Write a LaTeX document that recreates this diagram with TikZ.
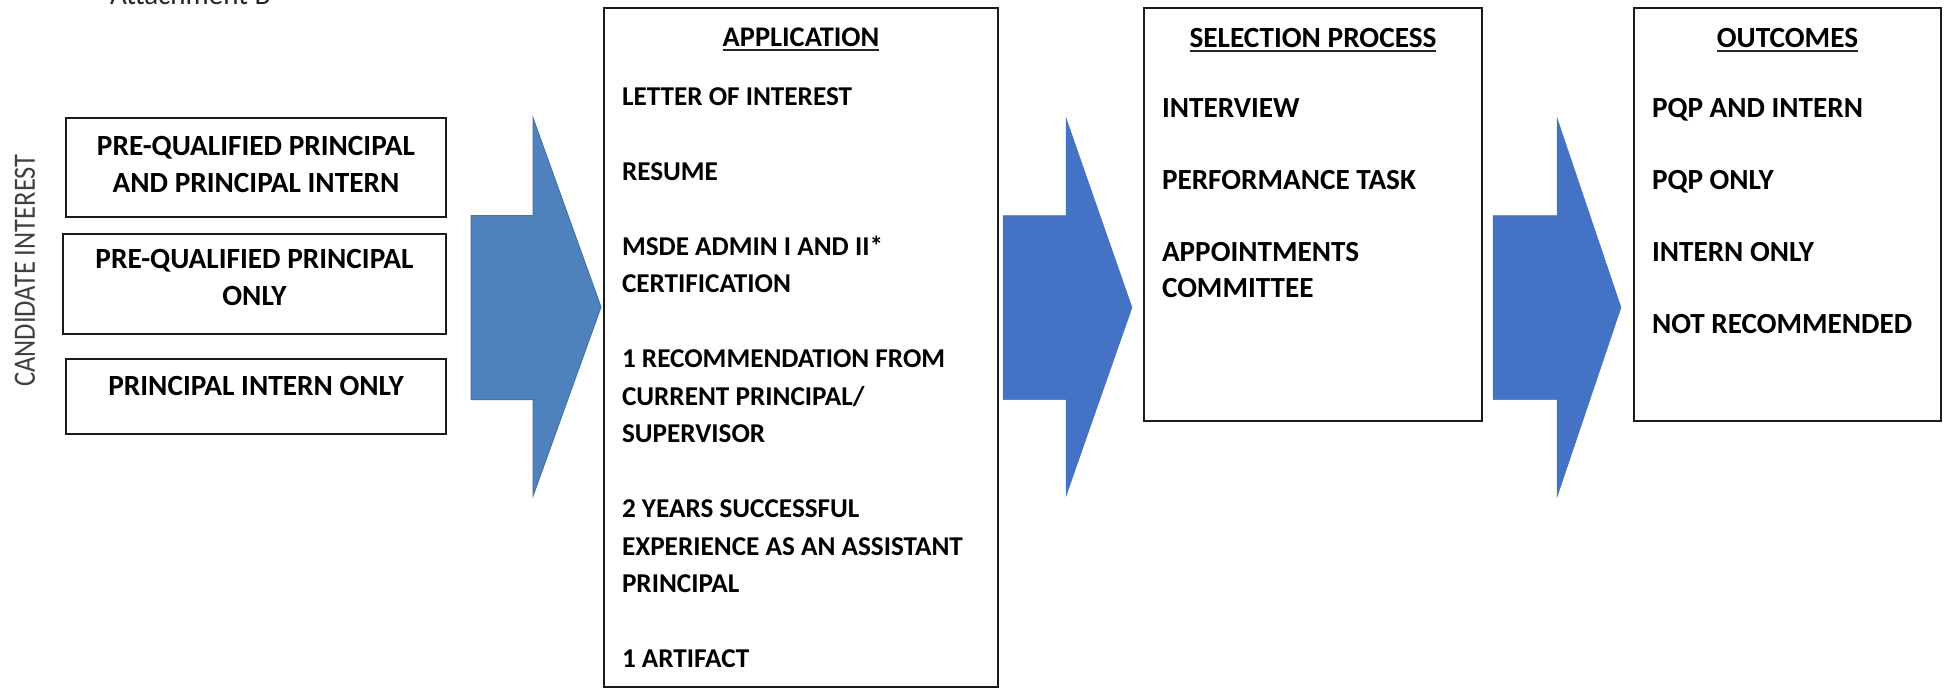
\documentclass[tikz,border=0pt]{standalone}
\usepackage{graphicx}
\usepackage{fontspec}
\setmainfont{Carlito}
\definecolor{arrowA}{HTML}{4F81BD}
\definecolor{arrowAedge}{HTML}{4272B0}
\definecolor{arrowB}{HTML}{4472C4}
\definecolor{txtgray}{HTML}{404040}
\definecolor{boxline}{HTML}{1A1A1A}
\begin{document}
\begin{tikzpicture}[x=1pt,y=-1pt,
  box/.style={draw=boxline, line width=2pt, fill=white, inner sep=0pt, outer sep=0pt},
  txt/.style={inner sep=0pt, outer sep=0pt, text=black, font=\fontsize{29.3}{37}\selectfont\bfseries},
  head/.style={inner sep=0pt, outer sep=0pt, text=black, font=\fontsize{29.3}{37}\selectfont\bfseries},
  uline/.style={line width=2pt, draw=black!85},
  blockA/.style={fill=arrowA, draw=arrowAedge, line width=1pt, line join=miter},
  blockB/.style={fill=arrowB, draw=arrowB, line width=0.5pt, line join=miter}]
\useasboundingbox (0,0) rectangle (1947,689);

% title (cut by page top)
\node[anchor=base west, inner sep=0pt, text=black!85, font=\fontsize{29}{29}\selectfont] (att) at (110,4) {Attachment B};

% side label
\node[rotate=90, inner sep=0pt, text=txtgray, font=\fontsize{31}{31}\selectfont] (ci) at (25,270.5) {\scalebox{0.855}[1]{CANDIDATE INTEREST}};

% left boxes
\node[box, anchor=north west, minimum width=380pt, minimum height=99pt] (b1) at (66,118) {};
\node[box, anchor=north west, minimum width=383pt, minimum height=100pt] (b2) at (63,234) {};
\node[box, anchor=north west, minimum width=380pt, minimum height=75pt] (b3) at (66,359) {};
\node[txt, anchor=north, align=center] (t1) at (256,136) {PRE-QUALIFIED PRINCIPAL\\AND PRINCIPAL INTERN};
\node[txt, anchor=north, align=center] (t2) at (254.5,249) {PRE-QUALIFIED PRINCIPAL\\ONLY};
\node[txt, anchor=north, align=center] (t3) at (256,376) {PRINCIPAL INTERN ONLY};

% block arrows
\path[blockA] (471,215.5) -- (533,215.5) -- (533,118) -- (601,307) -- (533,496) -- (533,399.5) -- (471,399.5) -- cycle;
\path[blockB] (1003,215.5) -- (1066,215.5) -- (1066,118) -- (1132,307.5) -- (1066,496) -- (1066,399.5) -- (1003,399.5) -- cycle;
\path[blockB] (1493,215.5) -- (1557,215.5) -- (1557,118) -- (1621,307.5) -- (1557,497) -- (1557,399.5) -- (1493,399.5) -- cycle;

% application box
\node[box, anchor=north west, minimum width=394pt, minimum height=679pt] (app) at (604,8) {};
\node[head, anchor=base, font=\fontsize{28.4}{37}\selectfont\bfseries] (h1) at (801,46) {APPLICATION};
\draw[uline] ([yshift=-3.5pt]h1.base west) -- ([yshift=-3.5pt]h1.base east);
\node[txt, anchor=north west, align=left, font=\fontsize{27.2}{37.5}\selectfont\bfseries] (a1) at (622,87.5)
  {LETTER OF INTEREST\\[37.5pt]RESUME\\[37.5pt]MSDE ADMIN I AND II*\\CERTIFICATION\\[37.5pt]1 RECOMMENDATION FROM\\CURRENT PRINCIPAL/\\SUPERVISOR\\[37.5pt]2 YEARS SUCCESSFUL\\EXPERIENCE AS AN ASSISTANT\\PRINCIPAL\\[37.5pt]1 ARTIFACT};

% selection box
\node[box, anchor=north west, minimum width=338pt, minimum height=413pt] (sel) at (1144,8) {};
\node[head, anchor=base] (h2) at (1313,47) {SELECTION PROCESS};
\draw[uline] ([yshift=-3.5pt]h2.base west) -- ([yshift=-3.5pt]h2.base east);
\node[txt, anchor=north west, align=left, font=\fontsize{29.2}{36}\selectfont\bfseries] (s1) at (1162,98.2)
  {INTERVIEW\\[36pt]PERFORMANCE TASK\\[36pt]APPOINTMENTS\\COMMITTEE};

% outcomes box
\node[box, anchor=north west, minimum width=307pt, minimum height=413pt] (out) at (1634,8) {};
\node[head, anchor=base] (h3) at (1787.5,47) {OUTCOMES};
\draw[uline] ([yshift=-3.5pt]h3.base west) -- ([yshift=-3.5pt]h3.base east);
\node[txt, anchor=north west, align=left, font=\fontsize{29.2}{36}\selectfont\bfseries] (o1) at (1652,98.2)
  {PQP AND INTERN\\[36pt]PQP ONLY\\[36pt]INTERN ONLY\\[36pt]NOT RECOMMENDED};
\end{tikzpicture}
\end{document}
